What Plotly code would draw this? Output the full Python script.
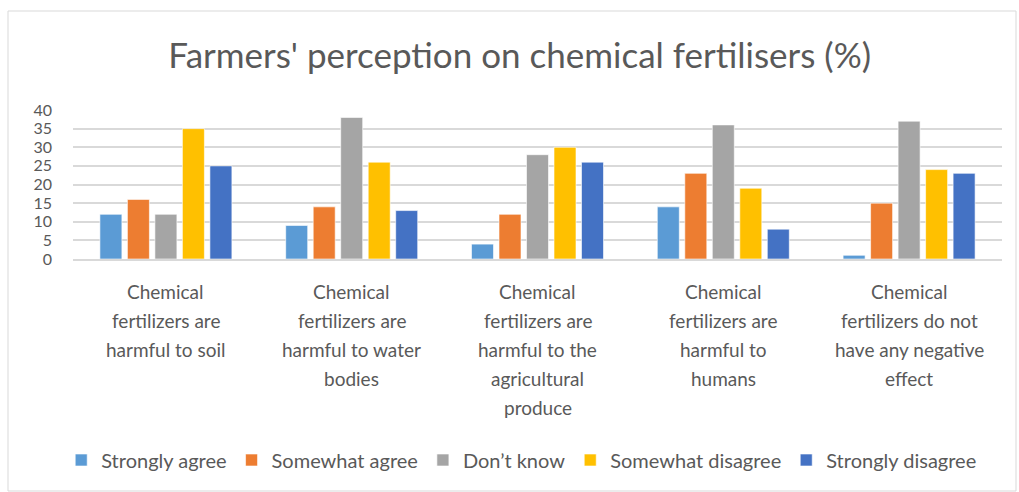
import plotly.graph_objects as go

categories = [
    "Chemical fertilizers are harmful to soil",
    "Chemical fertilizers are harmful to water bodies",
    "Chemical fertilizers are harmful to the agricultural produce",
    "Chemical fertilizers are harmful to humans",
    "Chemical fertilizers do not have any negative effect",
]
category_lines = [
    ["Chemical", "fertilizers are", "harmful to soil"],
    ["Chemical", "fertilizers are", "harmful to water", "bodies"],
    ["Chemical", "fertilizers are", "harmful to the", "agricultural", "produce"],
    ["Chemical", "fertilizers are", "harmful to", "humans"],
    ["Chemical", "fertilizers do not", "have any negative", "effect"],
]
series_names = ["Strongly agree", "Somewhat agree", "Don’t know", "Somewhat disagree", "Strongly disagree"]
strongly_agree = [12, 9, 4, 14, 1]
somewhat_agree = [16, 14, 12, 23, 15]
dont_know = [12, 38, 28, 36, 37]
somewhat_disagree = [35, 26, 30, 19, 24]
strongly_disagree = [25, 13, 26, 8, 23]
colors = ["#5B9BD5", "#ED7D31", "#A5A5A5", "#FFC000", "#4472C4"]
values = [strongly_agree, somewhat_agree, dont_know, somewhat_disagree, strongly_disagree]

W, H = 1019, 492
ml, mr, mt, mb = 73, 17, 110, 233
pw = W - ml - mr
ph = H - mt - mb

fig = go.Figure()
for name, vals, c in zip(series_names, values, colors):
    fig.add_trace(go.Bar(x=categories, y=vals, name=name,
                         marker=dict(color=c, line=dict(color="rgba(255,255,255,0.6)", width=1))))

font = "Lato, 'Open Sans', sans-serif"
grey = "#595959"
fig.update_layout(
    width=W, height=H,
    margin=dict(l=ml, r=mr, t=mt, b=mb),
    paper_bgcolor="white", plot_bgcolor="white",
    font=dict(family=font, color=grey, size=18),
    title=dict(text="Farmers' perception on chemical fertilisers (%)", x=0.51, xanchor="center",
               y=1 - 56 / H, yanchor="middle", font=dict(size=35, color=grey)),
    barmode="group", bargap=0.26, bargroupgap=0.2,
    legend=dict(orientation="h", x=0.483, xanchor="center", y=(ph - (460 - mt)) / ph, yanchor="middle",
                font=dict(size=20, color=grey), itemwidth=30, tracegroupgap=0),
    yaxis=dict(range=[0, 40], dtick=5, showgrid=True, gridcolor="#D9D9D9", gridwidth=1.5,
               zeroline=False, showline=False, ticks="", tickfont=dict(size=16), ticklabelstandoff=20,
               fixedrange=True, automargin=False),
    xaxis=dict(showgrid=False, showline=True, linecolor="#D9D9D9", linewidth=1.5, ticks="",
               showticklabels=False, fixedrange=True, automargin=False),
    showlegend=True,
)

# category labels, one annotation per line for Office-like line spacing
for cat, lines in zip(categories, category_lines):
    for i, line in enumerate(lines):
        fig.add_annotation(x=cat, xref="x", yref="paper",
                           y=(ph - (291 + 29 * i - mt)) / ph, yanchor="middle",
                           text=line, showarrow=False, font=dict(size=19, color=grey))

# outer chart border
fig.add_shape(type="rect", xref="paper", yref="paper",
              x0=(8 - ml) / pw, x1=(1016 - ml) / pw,
              y0=(ph - (491 - mt)) / ph, y1=(ph - (11 - mt)) / ph,
              line=dict(color="#D9D9D9", width=1), fillcolor="rgba(0,0,0,0)", layer="below")
fig.write_html("out.html", config={"displayModeBar": False},
               post_script="document.body.style.margin='0';")
